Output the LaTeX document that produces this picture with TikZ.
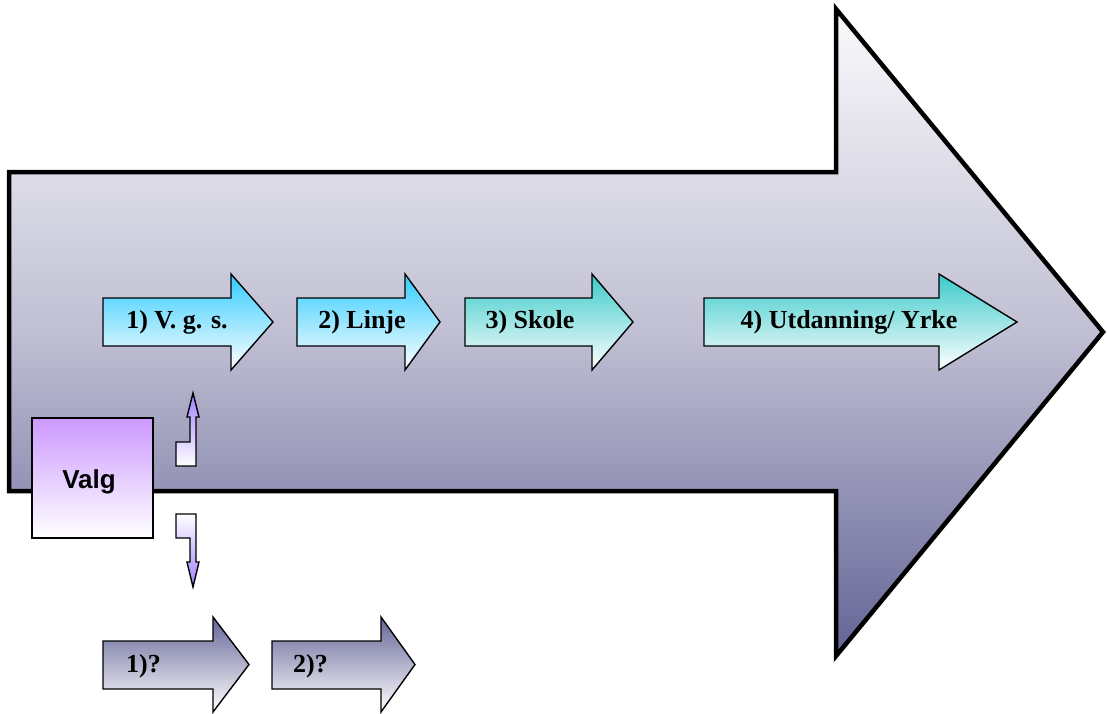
\documentclass[tikz,border=0pt]{standalone}
\usepackage{fontspec}
\setmainfont{Liberation Serif}
\newfontfamily\arialfont{Liberation Sans}
\definecolor{bigtop}{HTML}{FAFAFC}
\definecolor{bigmid}{HTML}{C0BFD3}
\definecolor{bigbot}{HTML}{646497}
\definecolor{bluetop}{HTML}{33CCFF}
\definecolor{tealtop}{HTML}{3CCACA}
\definecolor{graytop}{HTML}{666699}
\definecolor{purpletop}{HTML}{CC99FF}
\definecolor{violettop}{HTML}{A080FF}
\newcommand\blockarrow[8]{%
  \draw[#1] (#2,#3) -- (#5,#3) -- (#5,#6) -- (#8,{(#6+#7)/2}) -- (#5,#7) -- (#5,#4) -- (#2,#4) -- cycle;}
\begin{document}
\begin{tikzpicture}[x=1pt,y=-1pt,
  bigarrow/.style={draw=black,line width=4.5pt,line join=miter,top color=bigtop,bottom color=bigbot,middle color=bigmid},
  smallarrow/.style={draw=black,line width=1.4pt,line join=miter},
  bluearrow/.style={smallarrow,top color=bluetop,bottom color=white},
  tealarrow/.style={smallarrow,top color=tealtop,bottom color=white},
  grayarrow/.style={smallarrow,top color=graytop,bottom color=white},
  uparrow/.style={smallarrow,top color=violettop,bottom color=white},
  downarrow/.style={smallarrow,top color=white,bottom color=violettop},
  valgbox/.style={draw=black,line width=1.4pt,top color=purpletop,bottom color=white},
  lbl/.style={font=\fontsize{26}{30}\selectfont\bfseries,inner sep=0pt,anchor=base},
  lbls/.style={font=\arialfont\fontsize{26}{30}\selectfont\bfseries,inner sep=0pt,anchor=base}]
\useasboundingbox (0,0) rectangle (1107,713);
% big arrow
\draw[bigarrow] (9,172) -- (836,172) -- (836,9) -- (1103,332) -- (836,656) -- (836,491) -- (9,491) -- cycle;
% top row
\blockarrow{bluearrow}{103}{298}{346}{231}{274}{370}{273}
\blockarrow{bluearrow}{297}{298}{346}{405}{274}{370}{440}
\blockarrow{tealarrow}{465}{298}{346}{592}{274}{370}{633}
\blockarrow{tealarrow}{704}{298}{346}{939}{274}{370}{1017}
% bottom row
\blockarrow{grayarrow}{103}{641}{689}{213}{617}{712}{249}
\blockarrow{grayarrow}{272}{641}{689}{381}{617}{712}{415}
% bent arrows
\draw[uparrow] (176,466) -- (196,466) -- (196,417) -- (199,417) -- (193,393) -- (187,417) -- (190,417) -- (190,442) -- (176,442) -- cycle;
\draw[downarrow] (176,514) -- (196,514) -- (196,562) -- (199,562) -- (193,587) -- (187,562) -- (190,562) -- (190,538) -- (176,538) -- cycle;
% Valg box
\draw[valgbox] (32,418) rectangle (153,538);
% labels
\node[lbl] (t1) at (177,328) {1) V. g. s.};
\node[lbl] (t2) at (362,328) {2) Linje};
\node[lbl] (t3) at (530,328) {3) Skole};
\node[lbl] (t4) at (849,328) {4) Utdanning/ Yrke};
\node[lbl,anchor=base west] (b1) at (126,672) {1)?};
\node[lbl,anchor=base west] (b2) at (293,672) {2)?};
\node[lbls] (valg) at (89,488) {Valg};
\end{tikzpicture}
\end{document}
